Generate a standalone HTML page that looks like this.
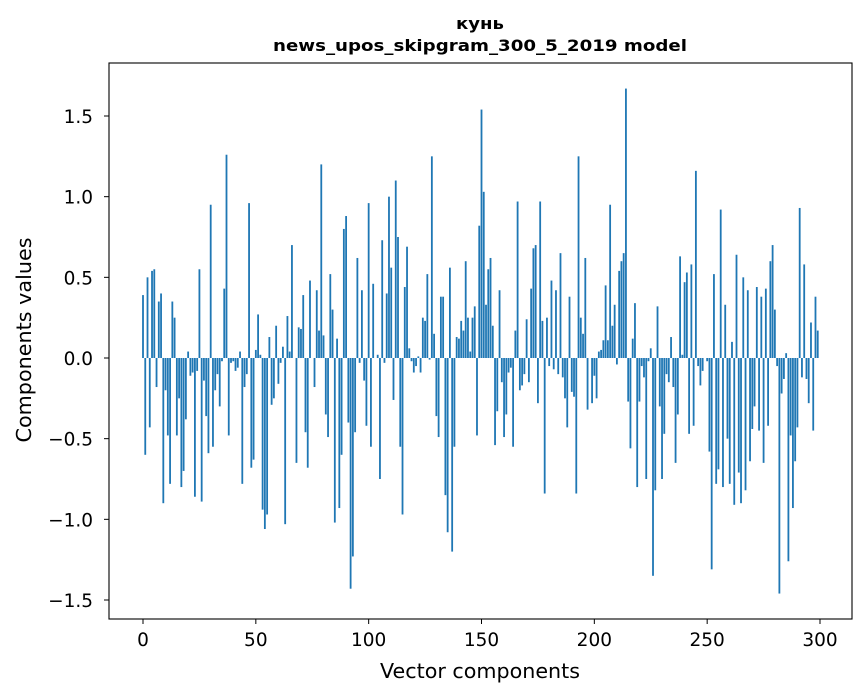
<!DOCTYPE html>
<html><head><meta charset="utf-8"><style>
body{margin:0;background:#fff;font-family:"DejaVu Sans","Liberation Sans",sans-serif}
svg text{font-family:"DejaVu Sans","Liberation Sans",sans-serif;fill:#000}
</style></head><body>
<svg id="c" width="867" height="696">
<text x="480" y="29" text-anchor="middle" font-size="16" font-weight="bold" textLength="48" lengthAdjust="spacingAndGlyphs">кунь</text>
<text x="480" y="51" text-anchor="middle" font-size="16" font-weight="bold" textLength="414" lengthAdjust="spacingAndGlyphs">news_upos_skipgram_300_5_2019 model</text>
<text x="480" y="678" text-anchor="middle" font-size="20" textLength="200" lengthAdjust="spacingAndGlyphs">Vector components</text>
<text transform="translate(31,340) rotate(-90)" text-anchor="middle" font-size="20" textLength="205" lengthAdjust="spacingAndGlyphs">Components values</text>
<g id="bars"></g>
<g id="axes"></g>
</svg>
<script>
const categories = Array.from({length:300},(_, i)=>i);
const values = [0.39,-0.6,0.5,-0.43,0.54,0.55,-0.18,0.35,0.4,-0.9,-0.2,-0.48,-0.78,0.35,0.25,-0.48,-0.25,-0.8,-0.7,-0.38,0.04,-0.11,-0.09,-0.86,-0.08,0.55,-0.89,-0.14,-0.36,-0.59,0.95,-0.55,-0.2,-0.1,-0.3,-0.02,0.43,1.26,-0.48,-0.03,-0.02,-0.08,-0.06,0.04,-0.78,-0.18,-0.1,0.96,-0.68,-0.63,0.05,0.27,0.02,-0.94,-1.06,-0.97,0.13,-0.29,-0.25,0.2,-0.16,-0.03,0.07,-1.03,0.26,0.04,0.7,0.0,-0.65,0.19,0.18,0.39,-0.46,-0.68,0.48,0.0,-0.18,0.42,0.17,1.2,0.14,-0.35,-0.49,0.52,0.3,-1.02,0.12,-0.93,-0.6,0.8,0.88,-0.4,-1.43,-1.23,-0.46,0.62,-0.03,0.42,-0.14,-0.42,0.96,-0.55,0.46,0.0,0.02,-0.75,0.73,-0.03,0.4,1.0,0.56,-0.26,1.1,0.75,-0.55,-0.97,0.44,0.69,0.06,-0.02,-0.09,-0.05,0.01,-0.09,0.25,0.23,0.52,-0.01,1.25,0.15,-0.36,-0.49,0.38,0.38,-0.85,-1.08,0.56,-1.2,-0.55,0.13,0.12,0.23,0.17,0.6,0.25,0.04,0.25,0.32,-0.48,0.82,1.54,1.03,0.33,0.55,0.62,0.2,-0.54,-0.33,0.42,-0.15,-0.49,-0.35,-0.09,-0.06,-0.55,0.17,0.97,-0.2,-0.17,-0.1,0.24,-0.15,0.43,0.68,0.7,-0.28,0.97,0.23,-0.84,0.25,-0.05,0.48,-0.07,0.42,-0.1,0.65,-0.12,-0.25,-0.43,0.38,-0.21,-0.24,-0.84,1.25,0.25,0.15,0.62,-0.32,0.0,-0.28,-0.11,-0.25,0.04,0.05,0.11,0.45,0.11,0.95,0.2,0.33,-0.04,0.54,0.6,0.65,1.67,-0.27,-0.56,0.12,0.34,-0.8,-0.27,-0.05,-0.12,-0.75,-0.02,0.06,-1.35,-0.82,0.32,-0.3,-0.75,-0.47,-0.1,-0.15,0.13,-0.18,-0.65,-0.35,0.63,0.02,0.47,0.53,-0.47,0.58,-0.42,1.16,-0.05,-0.17,-0.08,0.0,-0.02,-0.58,-1.31,0.52,-0.78,-0.69,0.92,-0.8,0.33,-0.5,-0.78,0.1,-0.91,0.64,-0.71,-0.9,0.5,-0.82,0.42,-0.64,-0.44,-0.3,0.44,-0.45,0.38,-0.65,0.43,-0.42,0.6,0.7,0.3,-0.05,-1.46,-0.22,-0.13,0.03,-1.26,-0.48,-0.93,-0.64,-0.43,0.93,-0.12,0.58,-0.13,-0.28,0.22,-0.45,0.38,0.17];
const xTicks = [0,50,100,150,200,250,300];
const yTicks = [-1.5,-1.0,-0.5,0.0,0.5,1.0,1.5];
const NS='http://www.w3.org/2000/svg';
const L=109,R=852,T=63,B=619;
const xs=v=>143+v*(820-143)/300;
const ys=v=>358-v*(358-116)/1.5;
const bars=document.getElementById('bars'), axes=document.getElementById('axes');
function mk(tag,a,p){const e=document.createElementNS(NS,tag);for(const k in a)e.setAttribute(k,a[k]);p.appendChild(e);return e;}
categories.forEach((c,i)=>{
  const v=values[i]; const w=xs(0.8)-xs(0);
  const r=mk('rect',{x:xs(c-0.4),y:Math.min(ys(v),ys(0)),width:w,height:Math.abs(ys(v)-ys(0)),fill:'#1f77b4'},bars);
  
  
});
const f=mk('rect',{x:L,y:T,width:R-L,height:B-T,fill:'none',stroke:'#000','stroke-width':1.1},axes);


xTicks.forEach(t=>{
  mk('line',{x1:xs(t),x2:xs(t),y1:B,y2:B+5,stroke:'#000'},axes);
  const tx=mk('text',{x:xs(t),y:B+27,'text-anchor':'middle','font-size':18.5},axes);tx.textContent=t;
  
  
});
yTicks.forEach(t=>{
  mk('line',{x1:L-5,x2:L,y1:ys(t),y2:ys(t),stroke:'#000'},axes);
  const tx=mk('text',{x:L-16,y:ys(t)+7,'text-anchor':'end','font-size':18.5},axes);tx.textContent=t.toFixed(1).replace('-','−');
  
  
});
</script>
</body></html>
